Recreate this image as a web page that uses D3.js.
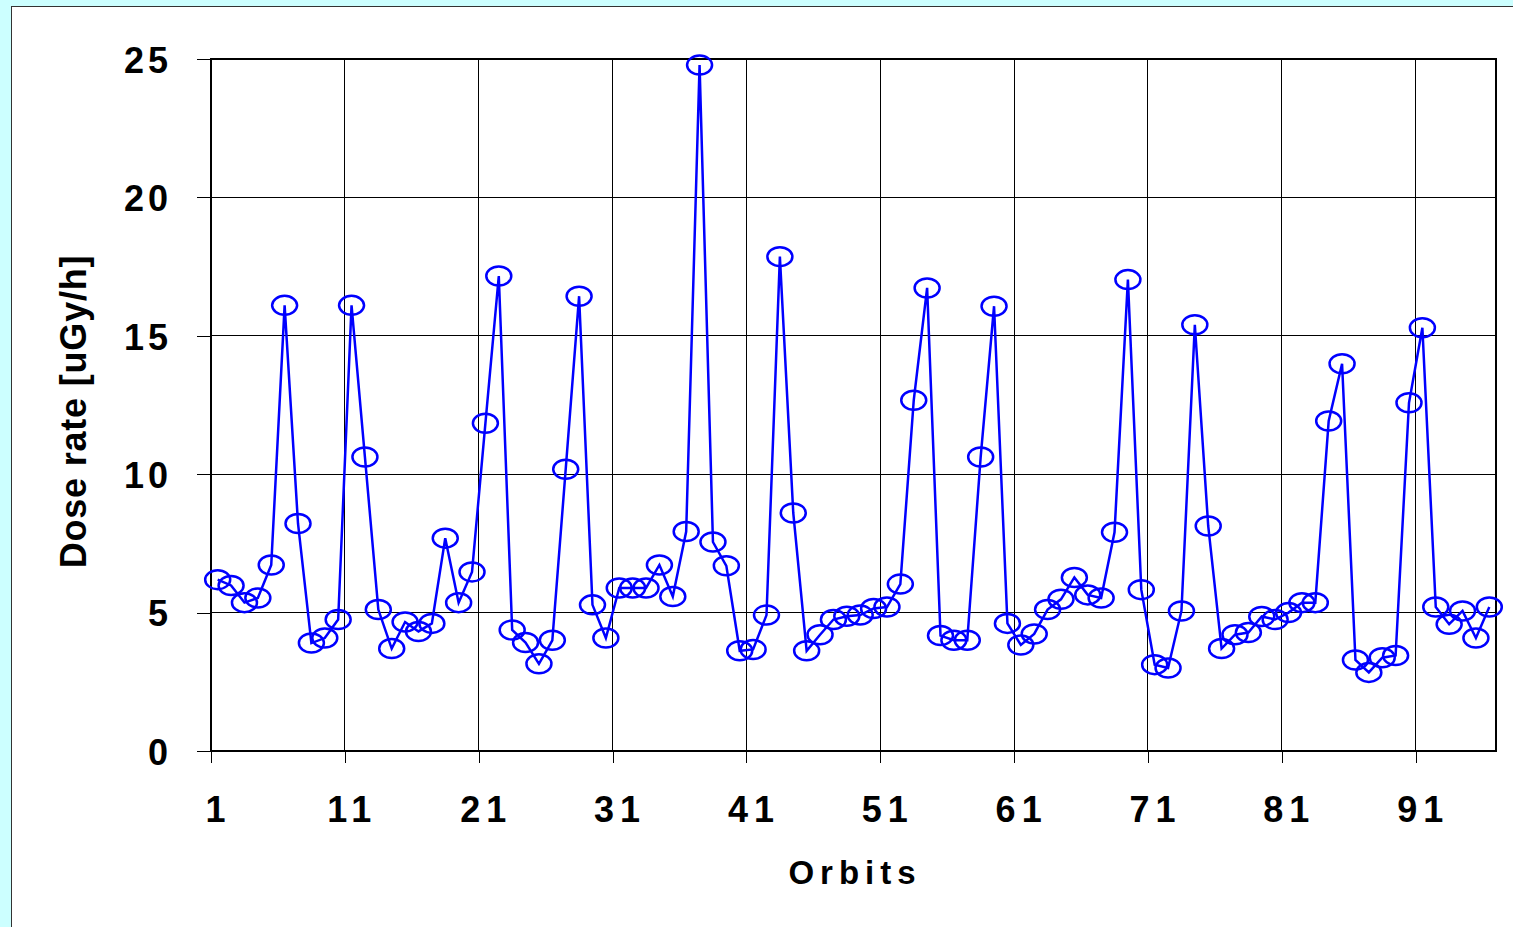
<!DOCTYPE html>
<html>
<head>
<meta charset="utf-8">
<script src="https://cdn.jsdelivr.net/npm/d3@7"></script>
<style>
  html, body { margin: 0; padding: 0; background: #CCFFFF; overflow: hidden; }
  svg { display: block; }
  text { font-family: "Liberation Sans", Arial, sans-serif; font-weight: bold; fill: #000; }
</style>
</head>
<body>
<svg id="chart" width="1513" height="927"></svg>
<script>
// ---- data ----
const orbits = d3.range(1, 97);           // orbit numbers 1..96
const doseRate = [
  6.19, 5.98, 5.36, 5.53, 6.72, 16.10, 8.22, 3.90, 4.08, 4.75,
  16.10, 10.62, 5.11, 3.70, 4.66, 4.32, 4.61, 7.69, 5.36, 6.47,
  11.84, 17.16, 4.37, 3.92, 3.15, 4.00, 10.18, 16.43, 5.28, 4.08,
  5.89, 5.89, 5.89, 6.72, 5.58, 7.93, 24.78, 7.55, 6.69, 3.62,
  3.67, 4.91, 17.86, 8.60, 3.62, 4.20, 4.75, 4.87, 4.91, 5.15,
  5.20, 6.03, 12.67, 16.73, 4.17, 4.00, 4.00, 10.62, 16.07, 4.61,
  3.83, 4.23, 5.11, 5.48, 6.27, 5.64, 5.53, 7.90, 17.03, 5.83,
  3.12, 3.00, 5.06, 15.40, 8.13, 3.70, 4.20, 4.28, 4.86, 4.75,
  5.00, 5.36, 5.36, 11.92, 13.99, 3.29, 2.84, 3.37, 3.45, 12.58,
  15.29, 5.20, 4.58, 5.06, 4.08, 5.20
];
const yTicks = [0, 5, 10, 15, 20, 25];
const xTickLabels = [1, 11, 21, 31, 41, 51, 61, 71, 81, 91];
const xLabel = "Orbits";
const yLabel = "Dose rate [uGy/h]";

// ---- layout ----
const svg = d3.select("#chart");
const W = 1513, H = 927;
const plot = { left: 211, right: 1496, top: 59, bottom: 751 };

// white chart area with border
svg.append("rect")
  .attr("x", 11.5).attr("y", 6.5)
  .attr("width", W + 20).attr("height", H + 20)
  .attr("fill", "#fff").attr("stroke", "#333").attr("stroke-width", 1);

// scales
const x = d3.scaleBand().domain(orbits).range([plot.left, plot.right]).padding(0);
const xEdge = d3.scaleLinear().domain([0, orbits.length]).range([plot.left, plot.right]);
const y = d3.scaleLinear().domain([0, 25]).range([plot.bottom, plot.top]);
const cx = d => x(d) + x.bandwidth() / 2;

// plot background
svg.append("rect")
  .attr("x", plot.left).attr("y", plot.top)
  .attr("width", plot.right - plot.left).attr("height", plot.bottom - plot.top)
  .attr("fill", "#fff");

// horizontal gridlines
svg.append("g").selectAll("line")
  .data(yTicks.filter(t => t > 0 && t < 25))
  .join("line")
  .attr("x1", plot.left).attr("x2", plot.right)
  .attr("y1", d => y(d)).attr("y2", d => y(d))
  .attr("stroke", "#000").attr("stroke-width", 1).attr("shape-rendering", "crispEdges");

// vertical gridlines at category boundaries (every 10)
const xTickIdx = xTickLabels.map(v => v - 1);
svg.append("g").selectAll("line")
  .data(xTickIdx.filter(t => t > 0))
  .join("line")
  .attr("x1", d => xEdge(d)).attr("x2", d => xEdge(d))
  .attr("y1", plot.top).attr("y2", plot.bottom)
  .attr("stroke", "#000").attr("stroke-width", 1).attr("shape-rendering", "crispEdges");

// Y axis
const yAxis = svg.append("g")
  .attr("transform", `translate(${plot.left},0)`)
  .call(d3.axisLeft(y).tickValues(yTicks).tickSize(14).tickPadding(25).tickFormat(d3.format("d")));
yAxis.select(".domain").remove();
yAxis.selectAll(".tick line").attr("stroke", "#000").attr("shape-rendering", "crispEdges");
yAxis.selectAll(".tick text")
  .attr("font-size", 36).attr("letter-spacing", 4)
  .attr("font-family", "'Liberation Sans', Arial, sans-serif")
  .attr("font-weight", "bold")
  .attr("dy", "0.37em").attr("fill", "#000");

// X axis
const xAxis = svg.append("g")
  .attr("transform", `translate(0,${plot.bottom})`)
  .call(d3.axisBottom(xEdge).tickValues(xTickIdx).tickSize(12).tickPadding(33)
        .tickFormat((d, i) => xTickLabels[i]));
xAxis.select(".domain").remove();
xAxis.selectAll(".tick line").attr("stroke", "#000").attr("shape-rendering", "crispEdges");
xAxis.selectAll(".tick text")
  .attr("font-size", 36).attr("letter-spacing", 6)
  .attr("font-family", "'Liberation Sans', Arial, sans-serif")
  .attr("font-weight", "bold")
  .attr("dx", 7).attr("fill", "#000");

// plot border
svg.append("rect")
  .attr("x", plot.left).attr("y", plot.top)
  .attr("width", plot.right - plot.left).attr("height", plot.bottom - plot.top)
  .attr("fill", "none").attr("stroke", "#000").attr("stroke-width", 2);

// series line
const line = d3.line().x((d, i) => cx(orbits[i])).y(d => y(d));
svg.append("path")
  .datum(doseRate)
  .attr("d", line)
  .attr("fill", "none").attr("stroke", "#0000FF").attr("stroke-width", 2.5)
  .attr("stroke-linejoin", "miter");

// markers (ellipses)
svg.append("g").selectAll("ellipse")
  .data(doseRate)
  .join("ellipse")
  .attr("cx", (d, i) => cx(orbits[i]))
  .attr("cy", d => y(d))
  .attr("rx", 12.5).attr("ry", 9.5)
  .attr("fill", "none").attr("stroke", "#0000FF").attr("stroke-width", 2.5);

// axis titles
svg.append("text")
  .attr("x", 852 + 3).attr("y", 884)
  .attr("text-anchor", "middle")
  .attr("font-size", 33).attr("letter-spacing", 6)
  .text(xLabel);

svg.append("text")
  .attr("transform", "translate(86,411.5) rotate(-90)")
  .attr("text-anchor", "middle")
  .attr("font-size", 36).attr("letter-spacing", 0.8)
  .text(yLabel);
</script>
</body>
</html>
